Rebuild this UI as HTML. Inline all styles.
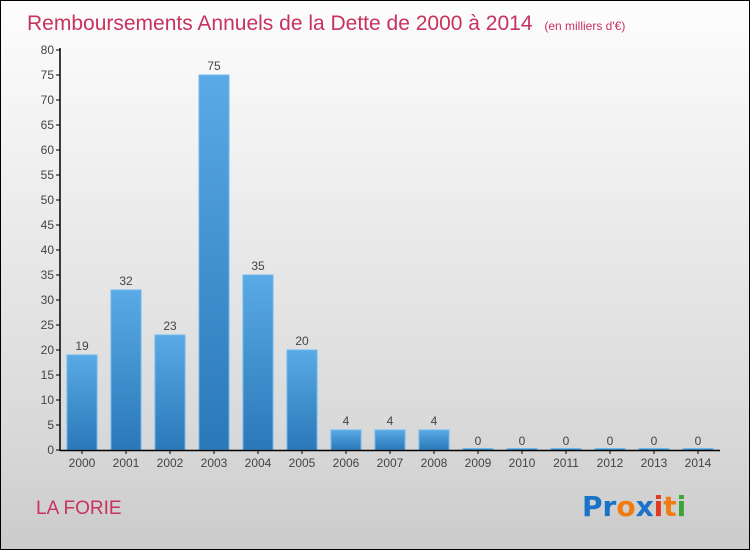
<!DOCTYPE html>
<html><head><meta charset="utf-8"><style>
body{margin:0;width:750px;height:550px;overflow:hidden}
#wrap{position:absolute;left:0;top:0;width:748px;height:548px;border:1px solid #000;background:linear-gradient(#fdfdfd,#f2f2f2 25%,#d8d8d8 80%,#cbcbcb);font-family:"Liberation Sans",sans-serif}
</style></head><body>
<div id="wrap">
<svg width="750" height="550" style="position:absolute;left:-1px;top:-1px">
<defs><linearGradient id="bg" x1="0" y1="0" x2="0" y2="1"><stop offset="0" stop-color="#5aaae6"/><stop offset="1" stop-color="#2a78b8"/></linearGradient></defs>
<text x="27" y="30" font-size="21" fill="#c8325f">Remboursements Annuels de la Dette de 2000 à 2014 <tspan font-size="12" dx="6">(en milliers d'€)</tspan></text>
<g id="plot"></g>
<text x="36" y="514" font-size="19" fill="#c8325f">LA FORIE</text>
<text x="582" y="516" font-size="28" font-family="DejaVu Sans" font-weight="bold"><tspan fill="#1a73c8">Pr</tspan><tspan fill="#f07b12">o</tspan><tspan fill="#1a73c8">x</tspan><tspan fill="#e23a1e">i</tspan><tspan fill="#f07b12">t</tspan><tspan fill="#39a537">i</tspan></text>
</svg>
</div>
<script>
const categories=["2000","2001","2002","2003","2004","2005","2006","2007","2008","2009","2010","2011","2012","2013","2014"];
const values=[19,32,23,75,35,20,4,4,4,0,0,0,0,0,0];
const yTicks=[0,5,10,15,20,25,30,35,40,45,50,55,60,65,70,75,80];
const NS="http://www.w3.org/2000/svg";
const g=document.getElementById('plot');
const y=v=>450-v*5, x=i=>82+44*i;
function mk(t,a,p){const e=document.createElementNS(NS,t);for(const k in a)e.setAttribute(k,a[k]);(p||g).appendChild(e);return e;}
yTicks.forEach(t=>{
 const l=mk('line',{x1:56,x2:60,y1:y(t),y2:y(t),stroke:'#000'});
 
 
 const tx=mk('text',{x:54,y:y(t)+4,'font-size':12,fill:'#444','text-anchor':'end'});tx.textContent=t;
 
 
});
values.forEach((v,i)=>{
 const h=Math.max(v*5,1.5);
 const r=mk('rect',{x:x(i)-15,y:450-h,width:30,height:h,fill:'url(#bg)',stroke:'#6bb8f0','stroke-width':1});
 
 
 const vl=mk('text',{x:x(i),y:y(v)-5,'font-size':12,fill:'#444','text-anchor':'middle'});vl.textContent=v;
 
 
 const tk=mk('line',{x1:x(i),x2:x(i),y1:450,y2:454,stroke:'#000'});
 
 
 const cl=mk('text',{x:x(i),y:467,'font-size':12,fill:'#444','text-anchor':'middle'});cl.textContent=categories[i];
 
 
});
const ya=mk('line',{x1:60,x2:60,y1:48,y2:451,stroke:'#000','stroke-width':1.5});


const xa=mk('line',{x1:60,x2:720,y1:450.5,y2:450.5,stroke:'#000','stroke-width':1.5});


</script>
</body></html>
